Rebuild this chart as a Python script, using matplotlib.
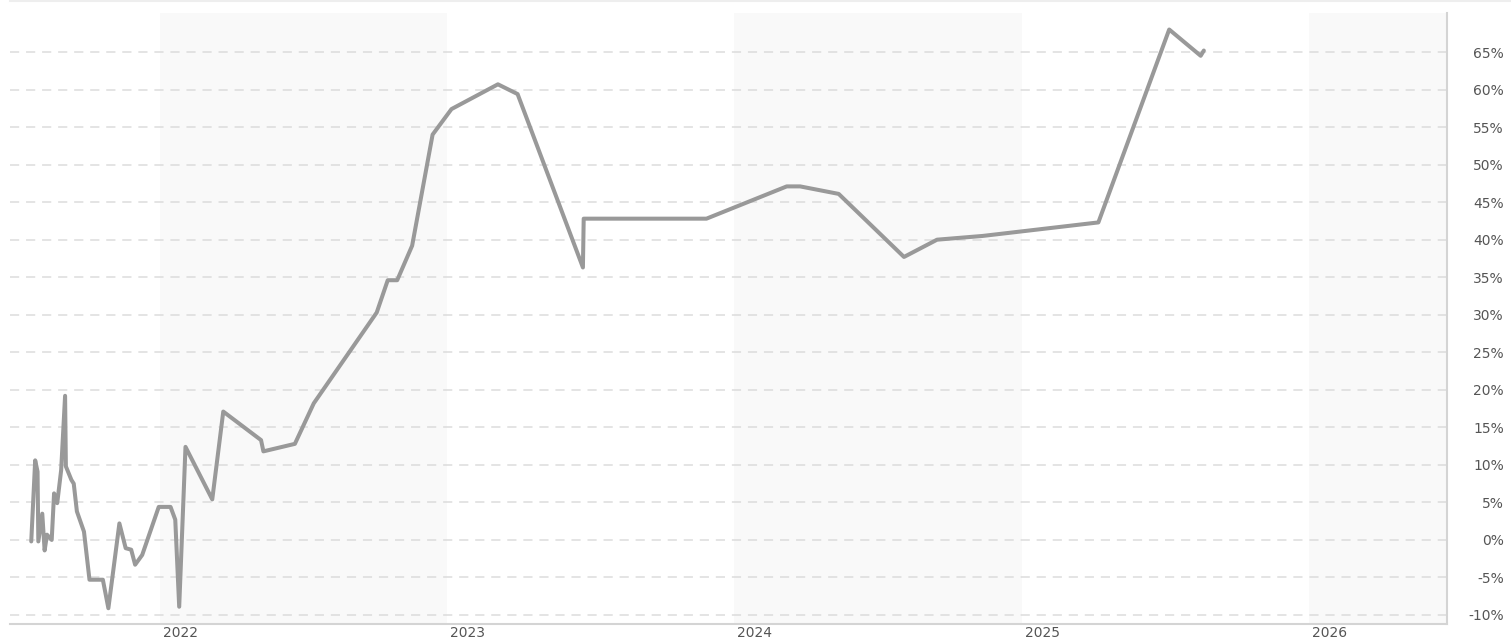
import numpy as np
import pandas as pd
import matplotlib
matplotlib.use("Agg")
import matplotlib.pyplot as plt
import matplotlib.dates as mdates
from matplotlib.transforms import ScaledTranslation
from matplotlib.lines import Line2D

# data
dates = [
    "2021-07-22", "2021-07-27", "2021-07-30", "2021-07-31", "2021-08-05",
    "2021-08-08", "2021-08-11", "2021-08-17", "2021-08-20", "2021-08-24",
    "2021-08-29", "2021-09-03", "2021-09-04", "2021-09-11", "2021-09-14",
    "2021-09-18", "2021-09-27", "2021-10-04", "2021-10-21", "2021-10-28",
    "2021-11-11", "2021-11-19", "2021-11-26", "2021-12-01", "2021-12-10",
    "2021-12-31", "2022-01-15", "2022-01-21", "2022-01-26", "2022-02-03",
    "2022-03-09", "2022-03-23", "2022-05-10", "2022-05-13", "2022-06-22",
    "2022-07-16", "2022-10-04", "2022-10-18", "2022-10-30", "2022-11-18",
    "2022-12-14", "2023-01-07", "2023-03-07", "2023-04-01", "2023-06-23",
    "2023-06-24", "2023-11-27", "2024-03-08", "2024-03-25", "2024-05-13",
    "2024-08-04", "2024-09-15", "2024-11-12", "2025-04-08", "2025-07-07",
    "2025-08-16", "2025-08-20",
]
returns = [
    -0.2, 10.6, 9.1, -0.2, 3.5,
    -1.4, 0.7, 0.0, 6.2, 4.9,
    9.3, 19.2, 9.8, 8.0, 7.5,
    3.8, 1.1, -5.3, -5.3, -9.1,
    2.2, -1.1, -1.3, -3.3, -2.0,
    4.4, 4.4, 2.7, -8.9, 12.4,
    5.4, 17.1, 13.3, 11.8, 12.8,
    18.2, 30.3, 34.6, 34.6, 39.2,
    54.0, 57.4, 60.7, 59.4, 36.3,
    42.8, 42.8, 47.1, 47.1, 46.1,
    37.7, 40.0, 40.5, 42.3, 68.0,
    64.5, 65.2,
]
years = [2022, 2023, 2024, 2025, 2026]
shaded_years = [2022, 2024, 2026]
yticks = list(range(-10, 70, 5))

x = pd.to_datetime(dates)

fig = plt.figure(figsize=(15.11, 6.39), dpi=100)
ax = fig.add_axes([10 / 1511, 15 / 639, 1437 / 1511, 611 / 639])

x_left = pd.Timestamp("2021-06-25")
x_right = pd.Timestamp("2026-06-25")

for yr in shaded_years:
    start = pd.Timestamp(f"{yr}-01-01")
    end = min(pd.Timestamp(f"{yr + 1}-01-01"), x_right)
    ax.axvspan(start, end, color="#f9f9f9", zorder=0, lw=0)

for t in yticks:
    ax.axhline(t, color="#dcdcdc", lw=1.1, dashes=(6, 4.5), zorder=1)

ax.plot(x, returns, color="#999999", lw=2.9, solid_joinstyle="round",
        solid_capstyle="round", zorder=3)

ax.set_xlim(x_left, x_right)
ax.set_ylim(-11.2, 70.2)

# y axis on the right
ax.yaxis.tick_right()
ax.set_yticks(yticks)
ax.set_yticklabels([f"{t}%" for t in yticks])
ax.tick_params(axis="y", length=0, pad=41, labelsize=10, labelcolor="#555555")
for lab in ax.get_yticklabels():
    lab.set_horizontalalignment("right")

# x axis
ax.set_xticks([pd.Timestamp(f"{yr}-01-01") for yr in years])
ax.set_xticklabels([str(yr) for yr in years])
ax.tick_params(axis="x", length=0, pad=1.5, labelsize=10, labelcolor="#555555")
offset = ScaledTranslation(3 / 100, 0, fig.dpi_scale_trans)
for lab in ax.get_xticklabels():
    lab.set_horizontalalignment("left")
    lab.set_transform(lab.get_transform() + offset)

for s in ["top", "left"]:
    ax.spines[s].set_visible(False)
ax.spines["bottom"].set_color("#d4d4d4")
ax.spines["bottom"].set_linewidth(1.5)
ax.spines["right"].set_color("#d4d4d4")
ax.spines["right"].set_linewidth(1.5)

fig.add_artist(Line2D([10 / 1511, 1], [638.5 / 639, 638.5 / 639], color="#eeeeee", lw=1.5))

fig.savefig("out.png", dpi=100)
